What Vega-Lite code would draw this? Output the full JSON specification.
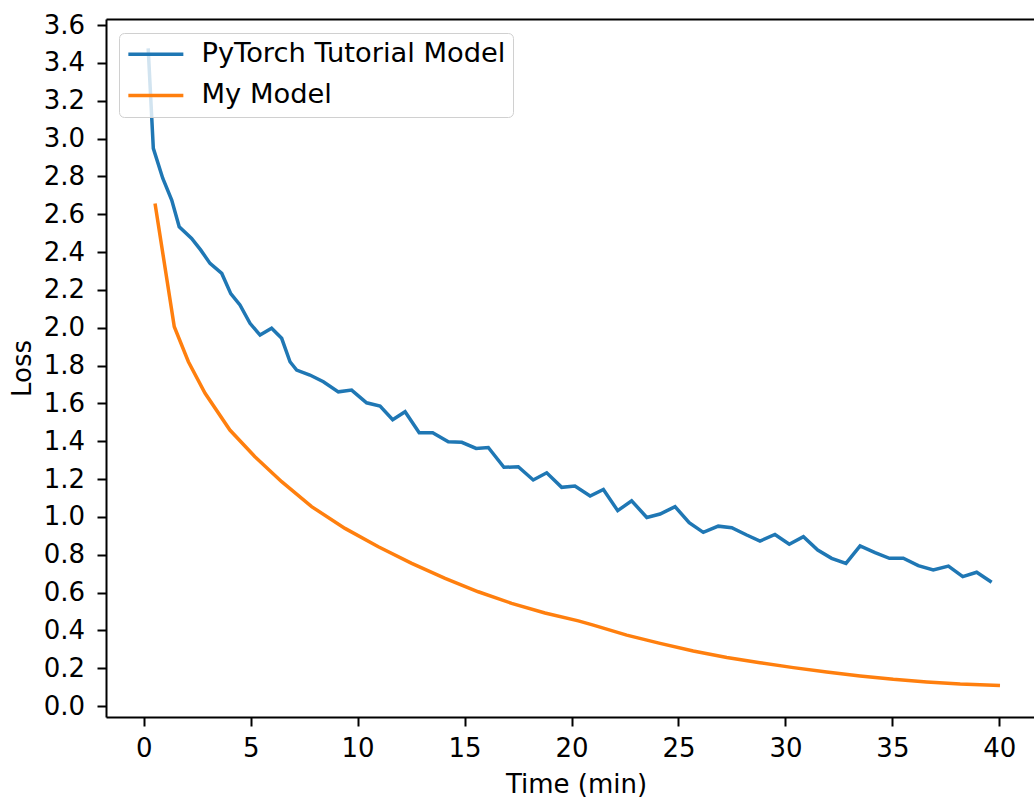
{
  "$schema": "https://vega.github.io/schema/vega-lite/v6.json",
  "autosize": {"type": "none"},
  "padding": {"left": 106, "top": 19, "right": 0, "bottom": 81},
  "width": 928,
  "height": 698,
  "background": "white",
  "config": {
    "view": {"stroke": null},
    "font": "DejaVu Sans",
    "axis": {
      "labelFont": "DejaVu Sans",
      "titleFont": "DejaVu Sans",
      "labelFontSize": 26,
      "titleFontSize": 26,
      "titleFontWeight": "normal",
      "labelColor": "#000000",
      "titleColor": "#000000",
      "tickColor": "#000000",
      "domainColor": "#000000",
      "tickWidth": 2,
      "domainWidth": 2,
      "tickSize": 9,
      "grid": false
    }
  },
  "datasets": {
    "tutorial": [
      {"model": "PyTorch Tutorial Model", "time": 0.21, "loss": 3.477},
      {"model": "PyTorch Tutorial Model", "time": 0.45, "loss": 2.948},
      {"model": "PyTorch Tutorial Model", "time": 0.89, "loss": 2.79},
      {"model": "PyTorch Tutorial Model", "time": 1.31, "loss": 2.675},
      {"model": "PyTorch Tutorial Model", "time": 1.66, "loss": 2.534},
      {"model": "PyTorch Tutorial Model", "time": 2.24, "loss": 2.472},
      {"model": "PyTorch Tutorial Model", "time": 2.67, "loss": 2.41},
      {"model": "PyTorch Tutorial Model", "time": 3.10, "loss": 2.34},
      {"model": "PyTorch Tutorial Model", "time": 3.65, "loss": 2.287},
      {"model": "PyTorch Tutorial Model", "time": 4.07, "loss": 2.18},
      {"model": "PyTorch Tutorial Model", "time": 4.50, "loss": 2.12},
      {"model": "PyTorch Tutorial Model", "time": 4.97, "loss": 2.023},
      {"model": "PyTorch Tutorial Model", "time": 5.44, "loss": 1.961},
      {"model": "PyTorch Tutorial Model", "time": 5.98, "loss": 1.997},
      {"model": "PyTorch Tutorial Model", "time": 6.45, "loss": 1.944},
      {"model": "PyTorch Tutorial Model", "time": 6.84, "loss": 1.82},
      {"model": "PyTorch Tutorial Model", "time": 7.15, "loss": 1.776},
      {"model": "PyTorch Tutorial Model", "time": 7.77, "loss": 1.75},
      {"model": "PyTorch Tutorial Model", "time": 8.40, "loss": 1.714},
      {"model": "PyTorch Tutorial Model", "time": 9.10, "loss": 1.661},
      {"model": "PyTorch Tutorial Model", "time": 9.72, "loss": 1.670},
      {"model": "PyTorch Tutorial Model", "time": 10.42, "loss": 1.603},
      {"model": "PyTorch Tutorial Model", "time": 11.05, "loss": 1.586},
      {"model": "PyTorch Tutorial Model", "time": 11.64, "loss": 1.514},
      {"model": "PyTorch Tutorial Model", "time": 12.22, "loss": 1.556},
      {"model": "PyTorch Tutorial Model", "time": 12.88, "loss": 1.445},
      {"model": "PyTorch Tutorial Model", "time": 13.51, "loss": 1.445},
      {"model": "PyTorch Tutorial Model", "time": 14.24, "loss": 1.397},
      {"model": "PyTorch Tutorial Model", "time": 14.87, "loss": 1.394},
      {"model": "PyTorch Tutorial Model", "time": 15.54, "loss": 1.362},
      {"model": "PyTorch Tutorial Model", "time": 16.11, "loss": 1.367},
      {"model": "PyTorch Tutorial Model", "time": 16.84, "loss": 1.262},
      {"model": "PyTorch Tutorial Model", "time": 17.51, "loss": 1.265},
      {"model": "PyTorch Tutorial Model", "time": 18.21, "loss": 1.195},
      {"model": "PyTorch Tutorial Model", "time": 18.84, "loss": 1.233},
      {"model": "PyTorch Tutorial Model", "time": 19.54, "loss": 1.156},
      {"model": "PyTorch Tutorial Model", "time": 20.16, "loss": 1.163},
      {"model": "PyTorch Tutorial Model", "time": 20.87, "loss": 1.110},
      {"model": "PyTorch Tutorial Model", "time": 21.49, "loss": 1.145},
      {"model": "PyTorch Tutorial Model", "time": 22.16, "loss": 1.033},
      {"model": "PyTorch Tutorial Model", "time": 22.81, "loss": 1.085},
      {"model": "PyTorch Tutorial Model", "time": 23.52, "loss": 0.997},
      {"model": "PyTorch Tutorial Model", "time": 24.14, "loss": 1.015},
      {"model": "PyTorch Tutorial Model", "time": 24.84, "loss": 1.054},
      {"model": "PyTorch Tutorial Model", "time": 25.50, "loss": 0.969},
      {"model": "PyTorch Tutorial Model", "time": 26.16, "loss": 0.918},
      {"model": "PyTorch Tutorial Model", "time": 26.86, "loss": 0.951},
      {"model": "PyTorch Tutorial Model", "time": 27.49, "loss": 0.943},
      {"model": "PyTorch Tutorial Model", "time": 28.19, "loss": 0.904},
      {"model": "PyTorch Tutorial Model", "time": 28.81, "loss": 0.872},
      {"model": "PyTorch Tutorial Model", "time": 29.51, "loss": 0.907},
      {"model": "PyTorch Tutorial Model", "time": 30.18, "loss": 0.855},
      {"model": "PyTorch Tutorial Model", "time": 30.84, "loss": 0.895},
      {"model": "PyTorch Tutorial Model", "time": 31.51, "loss": 0.825},
      {"model": "PyTorch Tutorial Model", "time": 32.16, "loss": 0.781},
      {"model": "PyTorch Tutorial Model", "time": 32.83, "loss": 0.754},
      {"model": "PyTorch Tutorial Model", "time": 33.49, "loss": 0.846},
      {"model": "PyTorch Tutorial Model", "time": 34.19, "loss": 0.811},
      {"model": "PyTorch Tutorial Model", "time": 34.86, "loss": 0.781},
      {"model": "PyTorch Tutorial Model", "time": 35.51, "loss": 0.781},
      {"model": "PyTorch Tutorial Model", "time": 36.21, "loss": 0.742},
      {"model": "PyTorch Tutorial Model", "time": 36.91, "loss": 0.719},
      {"model": "PyTorch Tutorial Model", "time": 37.62, "loss": 0.740},
      {"model": "PyTorch Tutorial Model", "time": 38.29, "loss": 0.684},
      {"model": "PyTorch Tutorial Model", "time": 38.94, "loss": 0.707},
      {"model": "PyTorch Tutorial Model", "time": 39.64, "loss": 0.654}
    ],
    "mine": [
      {"model": "My Model", "time": 0.53, "loss": 2.657},
      {"model": "My Model", "time": 1.43, "loss": 2.005},
      {"model": "My Model", "time": 2.09, "loss": 1.82},
      {"model": "My Model", "time": 2.87, "loss": 1.653},
      {"model": "My Model", "time": 4.03, "loss": 1.459},
      {"model": "My Model", "time": 5.20, "loss": 1.318},
      {"model": "My Model", "time": 6.45, "loss": 1.186},
      {"model": "My Model", "time": 7.85, "loss": 1.054},
      {"model": "My Model", "time": 9.41, "loss": 0.939},
      {"model": "My Model", "time": 10.97, "loss": 0.842},
      {"model": "My Model", "time": 12.53, "loss": 0.754},
      {"model": "My Model", "time": 14.09, "loss": 0.675},
      {"model": "My Model", "time": 15.64, "loss": 0.604},
      {"model": "My Model", "time": 17.20, "loss": 0.543},
      {"model": "My Model", "time": 18.76, "loss": 0.492},
      {"model": "My Model", "time": 20.32, "loss": 0.45},
      {"model": "My Model", "time": 21.02, "loss": 0.428},
      {"model": "My Model", "time": 22.58, "loss": 0.375},
      {"model": "My Model", "time": 24.14, "loss": 0.331},
      {"model": "My Model", "time": 25.69, "loss": 0.291},
      {"model": "My Model", "time": 27.26, "loss": 0.257},
      {"model": "My Model", "time": 28.81, "loss": 0.229},
      {"model": "My Model", "time": 30.37, "loss": 0.203},
      {"model": "My Model", "time": 31.93, "loss": 0.180},
      {"model": "My Model", "time": 33.49, "loss": 0.159},
      {"model": "My Model", "time": 35.04, "loss": 0.141},
      {"model": "My Model", "time": 36.61, "loss": 0.127},
      {"model": "My Model", "time": 38.17, "loss": 0.116},
      {"model": "My Model", "time": 40.03, "loss": 0.109}
    ]
  },
  "resolve": {"axis": {"x": "independent"}},
  "layer": [
    {
      "data": {"name": "tutorial"},
      "mark": {"type": "line", "strokeWidth": 3.5, "clip": true},
      "encoding": {
        "x": {
          "field": "time", "type": "quantitative",
          "scale": {"domain": [-1.762, 41.62], "nice": false, "zero": false},
          "axis": {"orient": "bottom", "title": "Time (min)", "values": [0, 5, 10, 15, 20, 25, 30, 35, 40], "format": "d", "labelPadding": 9, "titlePadding": 10, "titleX": 470, "labelFlush": false, "labelOverlap": false}
        },
        "y": {
          "field": "loss", "type": "quantitative",
          "scale": {"domain": [-0.058, 3.632], "nice": false, "zero": false},
          "axis": {"title": "Loss", "values": [0, 0.2, 0.4, 0.6, 0.8, 1.0, 1.2, 1.4, 1.6, 1.8, 2.0, 2.2, 2.4, 2.6, 2.8, 3.0, 3.2, 3.4, 3.6], "format": ".1f", "labelPadding": 12.5, "titlePadding": 8, "labelOverlap": false, "labelFlush": false}
        },
        "color": {
          "field": "model", "type": "nominal",
          "scale": {"domain": ["PyTorch Tutorial Model", "My Model"], "range": ["#1f77b4", "#ff7f0e"]},
          "legend": {"title": null, "orient": "none", "legendX": 13, "legendY": 14, "symbolType": "M-5,0H5", "symbolSize": 121, "symbolStrokeWidth": 3.5, "symbolOffset": 15.7, "labelFontSize": 27.3, "labelFont": "DejaVu Sans", "labelColor": "#000000", "labelOffset": 32, "fillColor": "rgba(255,255,255,0.8)", "strokeColor": "#d0d0d0", "cornerRadius": 5, "padding": 7.5, "rowPadding": 13.3, "labelLimit": 600}
        }
      }
    },
    {
      "data": {"name": "mine"},
      "mark": {"type": "line", "strokeWidth": 3.5, "clip": true},
      "encoding": {
        "x": {
          "field": "time", "type": "quantitative",
          "scale": {"domain": [-1.762, 41.62], "nice": false, "zero": false},
          "axis": {"orient": "top", "title": null, "labels": false, "ticks": false, "domain": true}
        },
        "y": {
          "field": "loss", "type": "quantitative",
          "scale": {"domain": [-0.058, 3.632], "nice": false, "zero": false},
          "axis": {"title": "Loss", "values": [0, 0.2, 0.4, 0.6, 0.8, 1.0, 1.2, 1.4, 1.6, 1.8, 2.0, 2.2, 2.4, 2.6, 2.8, 3.0, 3.2, 3.4, 3.6], "format": ".1f", "labelPadding": 12.5, "titlePadding": 8, "labelOverlap": false, "labelFlush": false}
        },
        "color": {
          "field": "model", "type": "nominal",
          "scale": {"domain": ["PyTorch Tutorial Model", "My Model"], "range": ["#1f77b4", "#ff7f0e"]},
          "legend": {"title": null, "orient": "none", "legendX": 13, "legendY": 14, "symbolType": "M-5,0H5", "symbolSize": 121, "symbolStrokeWidth": 3.5, "symbolOffset": 15.7, "labelFontSize": 27.3, "labelFont": "DejaVu Sans", "labelColor": "#000000", "labelOffset": 32, "fillColor": "rgba(255,255,255,0.8)", "strokeColor": "#d0d0d0", "cornerRadius": 5, "padding": 7.5, "rowPadding": 13.3, "labelLimit": 600}
        }
      }
    }
  ]
}
